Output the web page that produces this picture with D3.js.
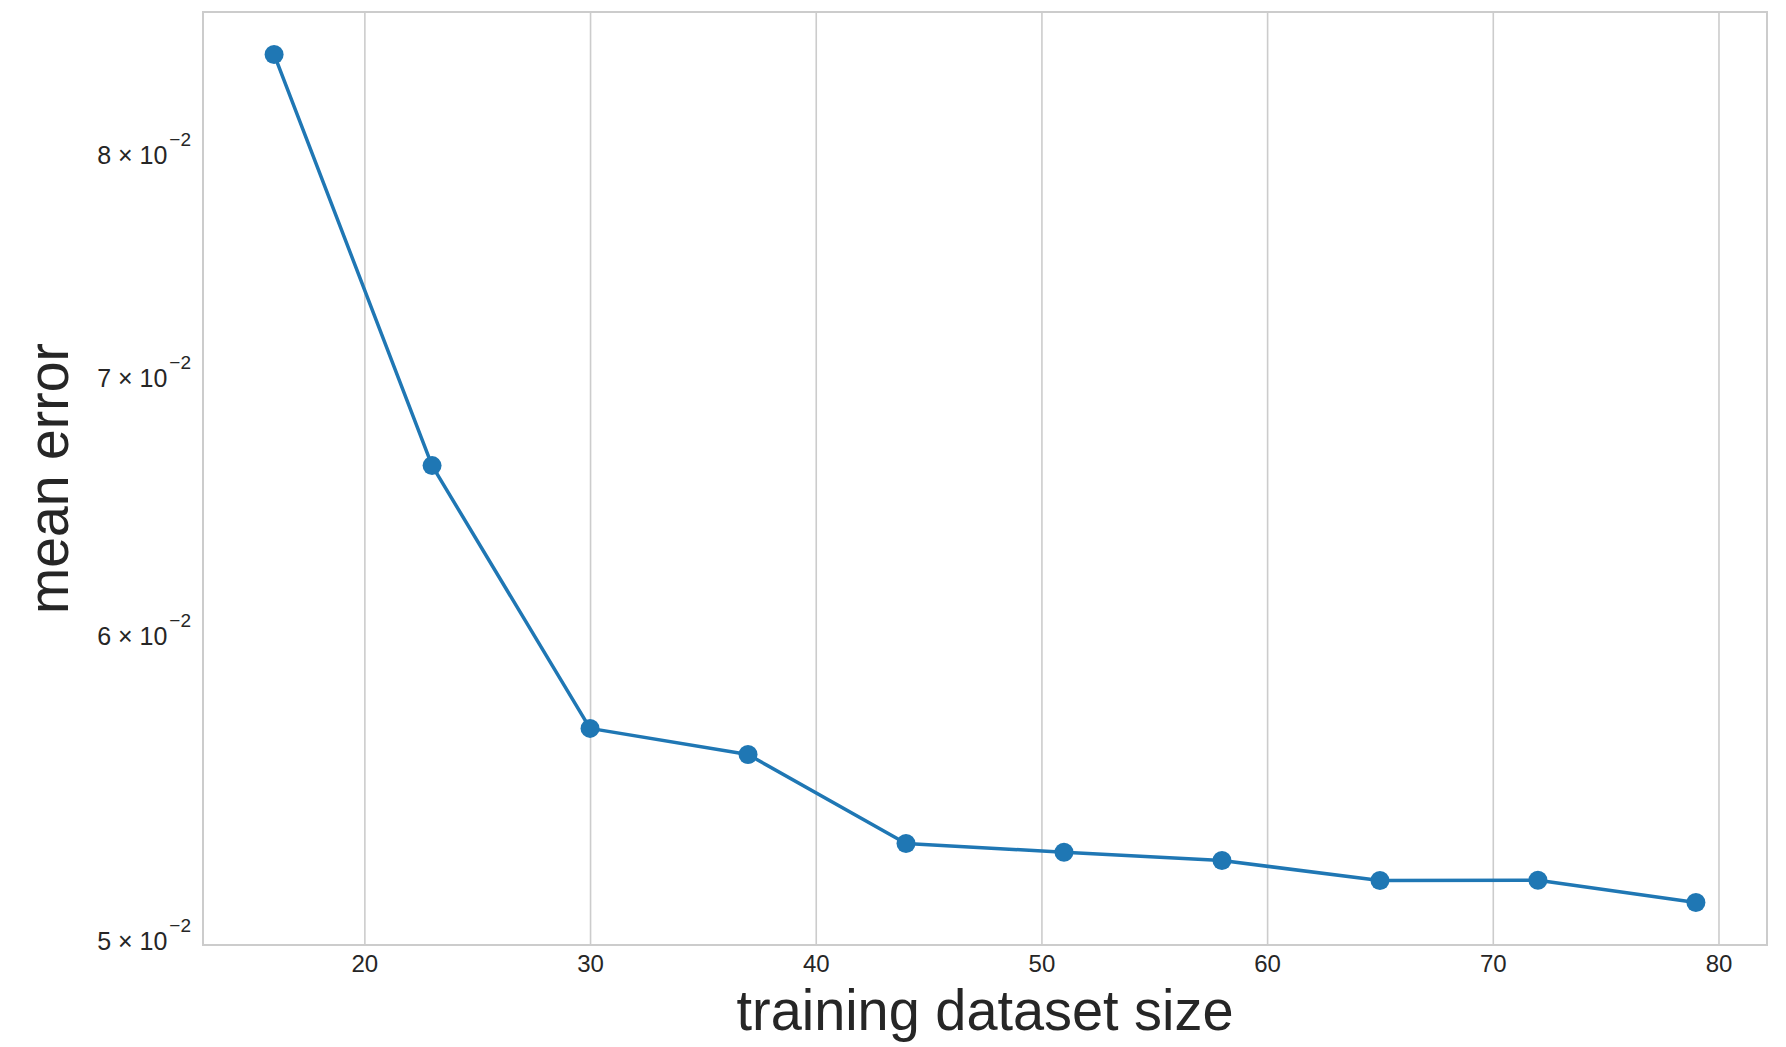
<!DOCTYPE html>
<html>
<head>
<meta charset="utf-8">
<script src="https://cdn.jsdelivr.net/npm/d3@7"></script>
<style>
  body { margin: 0; background: #ffffff; }
  #chart { width: 1786px; height: 1047px; }
</style>
</head>
<body>
<div id="chart"></div>
<script>
// data
const trainingSizes = [16, 23, 30, 37, 44, 51, 58, 65, 72, 79];
const meanErrors = [0.08484, 0.06634, 0.05669, 0.05581, 0.05292, 0.05264, 0.05238, 0.05176, 0.05177, 0.05108];
const xTickValues = [20, 30, 40, 50, 60, 70, 80];
const yTickValues = [0.05, 0.06, 0.07, 0.08];
const yTickMantissas = ["5", "6", "7", "8"];
const yTickExponent = "\u22122";

const colorPalette = {
  line: "#1f77b4",
  grid: "#cccccc",
  text: "#262626",
};

const config = {
  width: 1786,
  height: 1047,
  marginTop: 12,
  marginLeft: 203,
  marginRight: 19,
  marginBottom: 102,
  font: "'Liberation Sans', Arial, sans-serif",
};

const plotWidth = config.width - config.marginLeft - config.marginRight;
const plotHeight = config.height - config.marginTop - config.marginBottom;

const svg = d3.select("#chart")
  .append("svg")
  .attr("width", config.width)
  .attr("height", config.height)
  .style("font-family", config.font);

const g = svg.append("g")
  .attr("transform", `translate(${config.marginLeft},${config.marginTop})`);

// matplotlib style 5% margins (log space for y)
const xExt = d3.extent(trainingSizes);
const xPad = (xExt[1] - xExt[0]) * 0.05;
const yLog = d3.extent(meanErrors).map(Math.log10);
const yPad = (yLog[1] - yLog[0]) * 0.05;

const x = d3.scaleLinear()
  .domain([xExt[0] - xPad, xExt[1] + xPad])
  .range([0, plotWidth]);

const y = d3.scaleLog()
  .domain([Math.pow(10, yLog[0] - yPad), Math.pow(10, yLog[1] + yPad)])
  .range([plotHeight, 0]);

// vertical grid
g.append("g")
  .attr("class", "grid")
  .attr("transform", `translate(0,${plotHeight})`)
  .call(d3.axisBottom(x).tickValues(xTickValues).tickSize(-plotHeight).tickFormat(""))
  .call((s) => s.select(".domain").remove())
  .selectAll("line")
  .style("stroke", colorPalette.grid)
  .style("stroke-width", "1.6px");

// frame
g.append("rect")
  .attr("width", plotWidth)
  .attr("height", plotHeight)
  .attr("fill", "none")
  .attr("stroke", colorPalette.grid)
  .attr("stroke-width", 2);

// x axis
const xAxis = g.append("g")
  .attr("class", "xAxis")
  .attr("transform", `translate(0,${plotHeight})`)
  .call(d3.axisBottom(x).tickValues(xTickValues).tickSize(0).tickPadding(10).tickFormat(d3.format("d")));
xAxis.select(".domain").remove();
xAxis.selectAll("text")
  .style("font-size", "24px")
  .style("font-family", config.font)
  .attr("fill", colorPalette.text);

// y axis, labels like "8 × 10^-2"
const yAxis = g.append("g")
  .attr("class", "yAxis")
  .call(d3.axisLeft(y).tickValues(yTickValues).tickSize(0).tickPadding(12));
yAxis.select(".domain").remove();
yAxis.selectAll("text")
  .text(null)
  .attr("dy", null)
  .attr("y", 11)
  .attr("fill", colorPalette.text)
  .style("font-family", config.font)
  .each(function (d, i) {
    const t = d3.select(this);
    t.append("tspan").style("font-size", "25px").text(`${yTickMantissas[i]} \u00d7 10`);
    t.append("tspan").style("font-size", "19px").attr("dy", -18).attr("dx", 2).text(yTickExponent);
  });

// line + markers
const line = d3.line()
  .x((d, i) => x(trainingSizes[i]))
  .y((d) => y(d));

g.append("path")
  .datum(meanErrors)
  .attr("fill", "none")
  .attr("stroke", colorPalette.line)
  .attr("stroke-width", 3.5)
  .attr("stroke-linejoin", "round")
  .attr("d", line);

g.selectAll(".dot")
  .data(meanErrors)
  .enter()
  .append("circle")
  .attr("class", "dot")
  .attr("cx", (d, i) => x(trainingSizes[i]))
  .attr("cy", (d) => y(d))
  .attr("r", 9.5)
  .attr("fill", colorPalette.line);

// axis titles
svg.append("text")
  .attr("x", config.marginLeft + plotWidth / 2)
  .attr("y", 1030)
  .attr("text-anchor", "middle")
  .attr("fill", colorPalette.text)
  .style("font-size", "58px")
  .attr("textLength", 497)
  .attr("lengthAdjust", "spacingAndGlyphs")
  .text("training dataset size");

svg.append("text")
  .attr("transform", `translate(68,${config.marginTop + plotHeight / 2}) rotate(-90)`)
  .attr("text-anchor", "middle")
  .attr("fill", colorPalette.text)
  .style("font-size", "58px")
  .attr("textLength", 271)
  .attr("lengthAdjust", "spacingAndGlyphs")
  .text("mean error");
</script>
</body>
</html>
